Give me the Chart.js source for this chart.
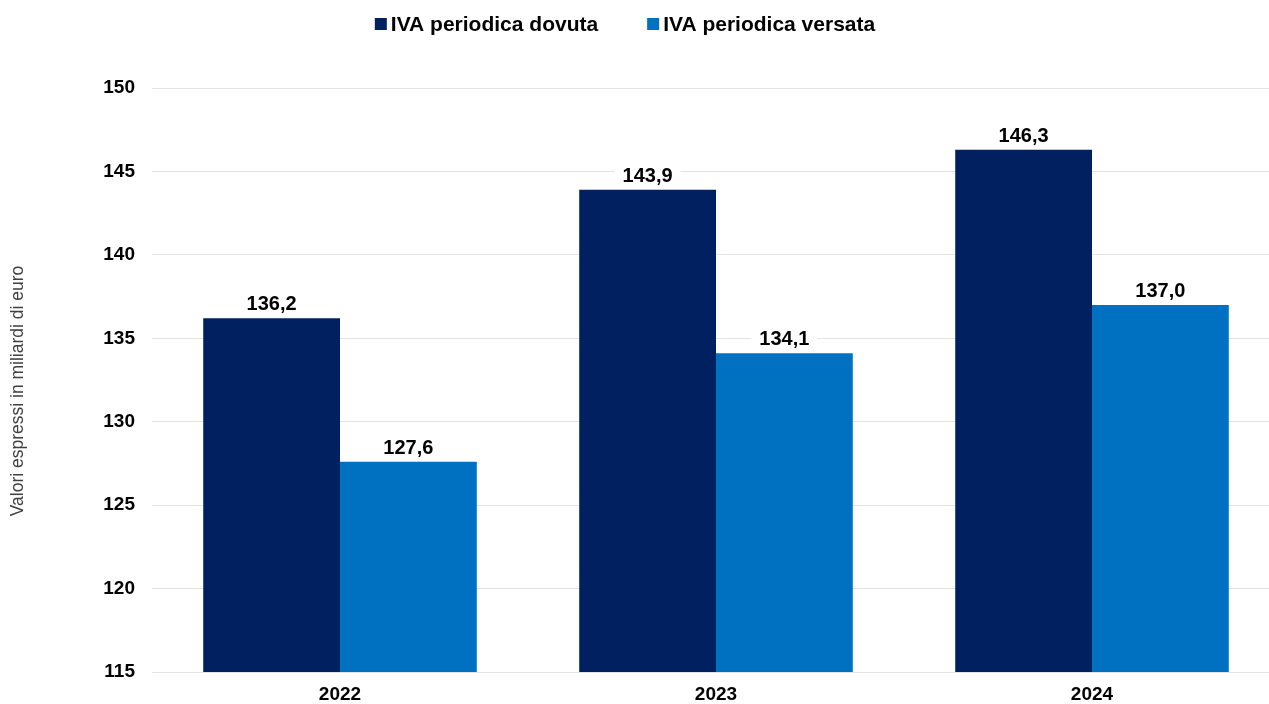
<!DOCTYPE html>
<html>
<head>
<meta charset="utf-8">
<script src="https://cdn.jsdelivr.net/npm/chart.js@4.4.1/dist/chart.umd.min.js"></script>
<style>
  html, body { margin: 0; padding: 0; background: #fff; overflow: hidden; }
  #wrap { width: 1280px; height: 704px; position: relative; }
</style>
</head>
<body>
<div id="wrap"><canvas id="ivaChart"></canvas></div>
<script>
const years = ['2022', '2023', '2024'];
const ivaDovuta = [136.2, 143.9, 146.3];
const ivaVersata = [127.6, 134.1, 137.0];
const yMin = 115, yMax = 150, yStep = 5;
const yTitle = 'Valori espressi in miliardi di euro';

const FONT = '"Liberation Sans", Arial, sans-serif';

// etichette sopra le barre con sfondo bianco
const barLabels = {
  id: 'barLabels',
  afterDatasetsDraw(chart) {
    const ctx = chart.ctx;
    ctx.save();
    ctx.font = 'bold 20px ' + FONT;
    ctx.textAlign = 'center';
    ctx.textBaseline = 'alphabetic';
    chart.data.datasets.forEach((ds, i) => {
      chart.getDatasetMeta(i).data.forEach((bar, j) => {
        const txt = ds.data[j].toFixed(1).replace('.', ',');
        const w = ctx.measureText(txt).width;
        const y = bar.y - 8;
        ctx.fillStyle = '#fff';
        ctx.fillRect(bar.x - w / 2 - 8, y - 18, w + 16, 20);
        ctx.fillStyle = '#000';
        ctx.fillText(txt, bar.x, y);
      });
    });
    ctx.restore();
  }
};

// legenda in alto + titolo asse y
const topLegend = {
  id: 'topLegend',
  afterDraw(chart) {
    const ctx = chart.ctx;
    const box = 12, gapText = 4, gapItem = 49;
    ctx.save();
    ctx.font = 'bold 21px ' + FONT;
    ctx.textBaseline = 'middle';
    ctx.textAlign = 'left';
    const items = chart.data.datasets.map(ds => ({
      text: ds.label, color: ds.backgroundColor, w: ctx.measureText(ds.label).width
    }));
    const total = items.reduce((s, it) => s + box + gapText + it.w, 0) + gapItem * (items.length - 1);
    let x = chart.width / 2 - 15 - total / 2;
    const cy = 24;
    items.forEach(it => {
      ctx.fillStyle = it.color;
      ctx.fillRect(x, cy - box / 2, box, box);
      x += box + gapText;
      ctx.fillStyle = '#000';
      ctx.fillText(it.text, x, cy + 1);
      x += it.w + gapItem;
    });

    ctx.translate(18, 391);
    ctx.rotate(-Math.PI / 2);
    ctx.font = '17.5px ' + FONT;
    ctx.textAlign = 'center';
    ctx.fillStyle = '#404040';
    ctx.fillText(yTitle, 0, 0);
    ctx.restore();
  }
};

new Chart(document.getElementById('ivaChart').getContext('2d'), {
  type: 'bar',
  data: {
    labels: years,
    datasets: [
      { label: 'IVA periodica dovuta', data: ivaDovuta, backgroundColor: '#002060' },
      { label: 'IVA periodica versata', data: ivaVersata, backgroundColor: '#0070C0' }
    ]
  },
  options: {
    responsive: true, maintainAspectRatio: false, animation: false,
    layout: { padding: { top: 88, right: 0, bottom: 0, left: 0 } },
    datasets: { bar: { categoryPercentage: 0.7275, barPercentage: 1 } },
    plugins: { legend: { display: false }, tooltip: { enabled: false } },
    scales: {
      x: {
        afterFit(scale) { scale.height = 32; },
        grid: { display: false, drawTicks: false },
        border: { display: false },
        ticks: { color: '#000', padding: 13, font: { family: FONT, size: 19, weight: 'bold', lineHeight: 1 } }
      },
      y: {
        min: yMin, max: yMax,
        afterFit(scale) { scale.width = 152; },
        grid: { color: '#e4e4e4', lineWidth: 1, drawTicks: false },
        border: { display: false },
        ticks: { stepSize: yStep, color: '#000', padding: 17, font: { family: FONT, size: 19, weight: 'bold' } }
      }
    }
  },
  plugins: [barLabels, topLegend]
});
</script>
</body>
</html>
